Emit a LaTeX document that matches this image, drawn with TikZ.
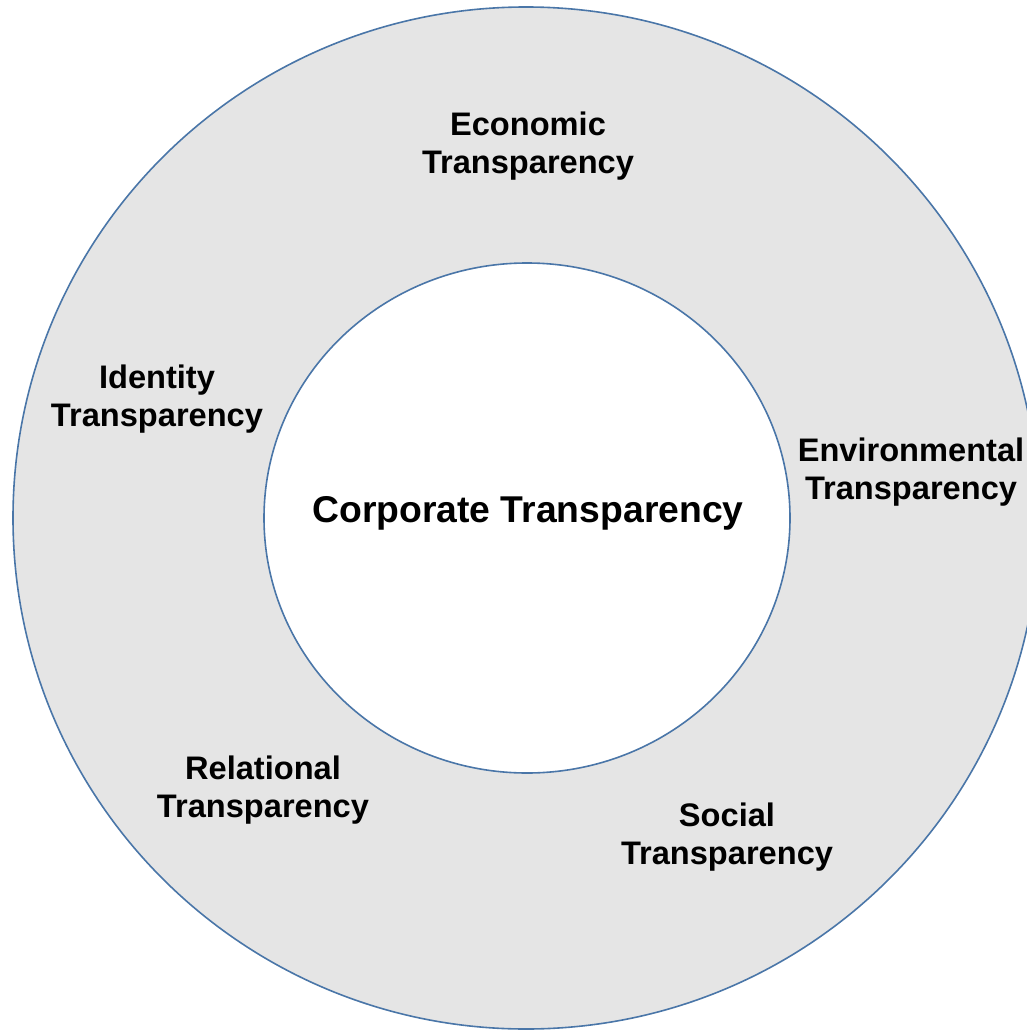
\documentclass[tikz,border=0pt]{standalone}
\usepackage{fontspec}
\usetikzlibrary{shapes.geometric}
\setmainfont{Liberation Sans}
\definecolor{ringblue}{HTML}{4A76A8}
\definecolor{ringgray}{HTML}{E5E5E5}
\begin{document}
\begin{tikzpicture}[x=1pt,y=-1pt,
  lbl/.style={align=center,inner sep=0pt,font=\bfseries\fontsize{32.6}{38.5}\selectfont},
  ring/.style={draw=ringblue,line width=1.6pt,ellipse,inner sep=0pt}]
\useasboundingbox (0,0) rectangle (1027,1030);
\begin{scope}
\clip (0,0) rectangle (1027,1030);
\node[ring,fill=ringgray,minimum width=1026pt,minimum height=1022pt] (outer) at (526,518) {};
\node[ring,fill=white,minimum width=526pt,minimum height=510pt] (inner) at (527,518) {};
\end{scope}
\node[lbl] (eco) at (528,146) {Economic\\Transparency};
\node[lbl] (ide) at (157,399) {Identity\\Transparency};
\node[lbl] (env) at (911,472) {Environmental\\Transparency};
\node[lbl] (rel) at (263,790) {Relational\\Transparency};
\node[lbl] (soc) at (727,837) {Social\\Transparency};
\node[inner sep=0pt,font=\bfseries\fontsize{37.3}{44}\selectfont] (core) at (528,513) {Corporate Transparency};
\end{tikzpicture}
\end{document}
